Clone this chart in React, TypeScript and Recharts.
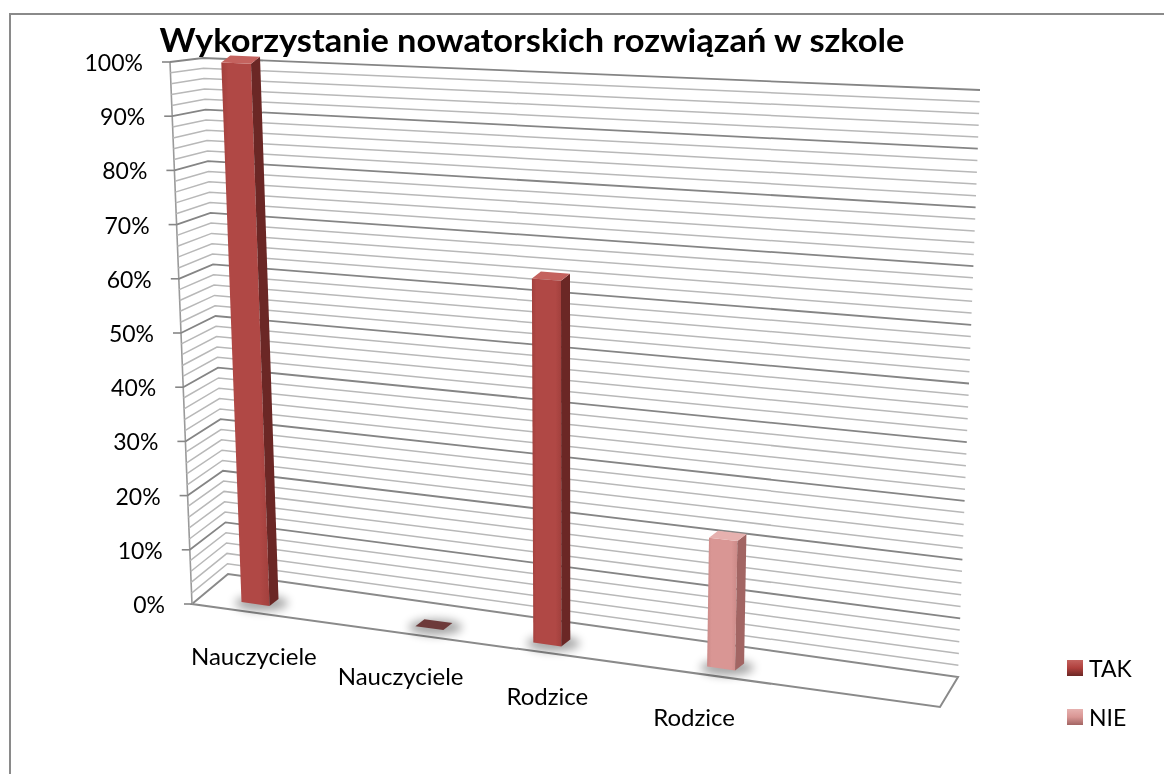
import React from 'react';
import { BarChart, Bar, XAxis, YAxis, CartesianGrid, Legend } from 'recharts';

// ---------- data ----------
const categories = ['Nauczyciele', 'Nauczyciele', 'Rodzice', 'Rodzice'];
const takValues: (number | null)[] = [1.0, null, 0.64, null];
const nieValues: (number | null)[] = [null, 0.0, null, 0.22];
const seriesNames = ['TAK', 'NIE'];
const gridTicks = [
  0, 0.02, 0.04, 0.06, 0.08, 0.1, 0.12, 0.14, 0.16, 0.18, 0.2, 0.22, 0.24, 0.26, 0.28, 0.3,
  0.32, 0.34, 0.36, 0.38, 0.4, 0.42, 0.44, 0.46, 0.48, 0.5, 0.52, 0.54, 0.56, 0.58, 0.6,
  0.62, 0.64, 0.66, 0.68, 0.7, 0.72, 0.74, 0.76, 0.78, 0.8, 0.82, 0.84, 0.86, 0.88, 0.9,
  0.92, 0.94, 0.96, 0.98, 1.0,
];
const majorTickLabels = ['0%', '10%', '20%', '30%', '40%', '50%', '60%', '70%', '80%', '90%', '100%'];
const title = 'Wykorzystanie nowatorskich rozwiązań w szkole';

const data = categories.map((c, i) => ({ name: c, TAK: takValues[i], NIE: nieValues[i] }));

// ---------- styles / geometry of the 3-D frame ----------
const W = 1148;
const H = 758;
const PLOT_TOP = 52;
const PLOT_BOTTOM = 572;
const PLOT_LEFT = 188.5;
const PLOT_RIGHT = 772;
const Y_AXIS_W = 60;
const X_AXIS_H = 30;
const FLAT_LEFT = 193;
const FLAT_W = 743.5;
const FONT = 'Lato, "Noto Sans", sans-serif';

const palette: Record<string, { front: string; frontDark: string; side: string; top: string; zero: string; icon: string }> = {
  TAK: { front: '#b04845', frontDark: '#a2403d', side: '#6b2725', top: '#c4625e', zero: '#6d3a3a', icon: '#b0403d' },
  NIE: { front: '#d99694', frontDark: '#cc8a88', side: '#a26563', top: '#e6b1af', zero: '#6d3a3a', icon: '#d99694' },
};

type Pt = [number, number];
const lerp = (a: number, b: number, t: number) => a + (b - a) * t;
const mix = (p: Pt, q: Pt, t: number): Pt => [lerp(p[0], q[0], t), lerp(p[1], q[1], t)];
const BL = (v: number): Pt => [220 - 25 * v, 566 - 516 * v];
const BR = (v: number): Pt => [950 + 22 * v, 669 - 587 * v];
const FL = (v: number): Pt => [184 - 22 * v, 596 - 542 * v];
const FR = (v: number): Pt => [932 + 24 * v, 699 - 617 * v];
const project = (t: number, v: number, f = 0.75): Pt =>
  mix(mix(BL(v), BR(v), t), mix(FL(v), FR(v), t), f);
const tOf = (x: number) => (x - FLAT_LEFT) / FLAT_W;
const vOf = (y: number) => (PLOT_BOTTOM - y) / (PLOT_BOTTOM - PLOT_TOP);
const pts = (arr: Pt[]) => arr.map((p) => `${p[0].toFixed(1)},${p[1].toFixed(1)}`).join(' ');
const add = (p: Pt, d: Pt): Pt => [p[0] + d[0], p[1] + d[1]];

const renderGridLine = (props: any) => {
  const v = vOf(props.y1);
  const step = Math.round(v * 50);
  const major = step % 5 === 0;
  const a = FL(v);
  const b = BL(v);
  const c = BR(v);
  const isFloor = Math.abs(v) < 0.005;
  return (
    <g key={props.key}>
      {isFloor && (
        <>
          <polygon
            points={pts([FL(0), BL(0), BR(0), FR(0)])}
            fill="#ffffff"
            stroke="#8a8a8a"
            strokeWidth={2}
          />
          <line x1={FL(0)[0]} y1={FL(0)[1]} x2={FL(1)[0]} y2={FL(1)[1]} stroke="#9a9a9a" strokeWidth={1.6} />
        </>
      )}
      {!isFloor && (
        <polyline
          points={pts([a, b, c])}
          fill="none"
          stroke={major ? '#858585' : '#b8b8b8'}
          strokeWidth={major ? 1.8 : 1.5}
        />
      )}
    </g>
  );
};

const YTick = (props: any) => {
  const v = vOf(props.y);
  const step = Math.round(v * 50);
  if (step % 5 !== 0) return <g />;
  const p = FL(v);
  return (
    <g>
      <line x1={p[0] - 8} y1={p[1]} x2={p[0]} y2={p[1]} stroke="#868686" strokeWidth={1.6} />
      <text
        x={p[0] - 27}
        y={p[1]}
        textAnchor="end"
        dominantBaseline="central"
        fontFamily={FONT}
        fontSize={23}
        fill="#000"
      >
        {majorTickLabels[step / 5]}
      </text>
    </g>
  );
};

const XTick = (props: any) => {
  const p = project(tOf(props.x), 0, 1);
  return (
    <text
      x={p[0] - 7}
      y={p[1] + 42}
      textAnchor="middle"
      dominantBaseline="central"
      fontFamily={FONT}
      fontSize={24}
      fill="#000"
    >
      {props.payload.value}
    </text>
  );
};

const makeBarShape = (key: string) => (props: any) => {
  const { x, y, width, height, payload, index } = props;
  if (!payload || payload[key] == null || x == null || isNaN(y)) return <g />;
  const col = palette[key];
  const tL = tOf(x);
  const tR = tOf(x + width);
  const vT = vOf(y);
  const vB = vOf(y + height);
  const fBL = project(tL, vB);
  const fBR = project(tR, vB);
  const fTR = project(tR, vT);
  const fTL = project(tL, vT);
  const D: Pt = [9, -7];
  const fid = `sh-${key}-${index}`;
  const gid = `gr-${key}-${index}`;
  const cx = (fBL[0] + fBR[0]) / 2 + 6;
  const cy = (fBL[1] + fBR[1]) / 2 - 1;
  const zero = Math.abs(height) < 0.5;
  return (
    <g>
      <defs>
        <filter id={fid} x="-50%" y="-200%" width="200%" height="500%">
          <feGaussianBlur stdDeviation={5} />
        </filter>
        <linearGradient id={gid} x1="0" y1="0" x2="1" y2="0">
          <stop offset="0" stopColor={col.frontDark} />
          <stop offset="0.15" stopColor={col.front} />
          <stop offset="0.8" stopColor={col.front} />
          <stop offset="1" stopColor={col.frontDark} />
        </linearGradient>
      </defs>
      <ellipse cx={cx} cy={cy} rx={width * 0.95} ry={8} fill="#000" opacity={0.35} filter={`url(#${fid})`} />
      {zero ? (
        <polygon points={pts([fTL, fTR, add(fTR, D), add(fTL, D)])} fill={col.zero} />
      ) : (
        <>
          <polygon points={pts([fBL, fBR, fTR, fTL])} fill={`url(#${gid})`} />
          <polygon points={pts([fBR, fTR, add(fTR, D), add(fBR, D)])} fill={col.side} />
          <polygon points={pts([fTL, fTR, add(fTR, D), add(fTL, D)])} fill={col.top} />
        </>
      )}
    </g>
  );
};

const renderLegend = (props: any) => {
  const payload = [...(props.payload || [])].sort(
    (a: any, b: any) => seriesNames.indexOf(a.value) - seriesNames.indexOf(b.value)
  );
  return (
    <div style={{ fontFamily: FONT, fontSize: 23, color: '#000' }}>
      {payload.map((e: any, i: number) => {
        const col = palette[e.value] || palette.TAK;
        return (
          <div key={i} style={{ display: 'flex', alignItems: 'center', height: 30, marginBottom: 19 }}>
            <span
              style={{
                display: 'inline-block',
                width: 16,
                height: 16,
                marginRight: 6,
                background: `linear-gradient(180deg, ${col.top} 0%, ${col.icon} 50%, ${col.side} 100%)`,
              }}
            />
            <span>{e.value}</span>
          </div>
        );
      })}
    </div>
  );
};

export default function App() {
  return (
    <div style={{ position: 'relative', width: W, height: H }}>
      <div
        style={{
          position: 'fixed',
          left: 9,
          top: 13,
          width: 1155,
          height: 761,
          borderLeft: '2px solid #8a8a8a',
          borderTop: '2px solid #8a8a8a',
          boxSizing: 'border-box',
          pointerEvents: 'none',
        }}
      />
      <BarChart
        width={W}
        height={H}
        data={data}
        margin={{
          top: PLOT_TOP,
          bottom: H - PLOT_BOTTOM - X_AXIS_H,
          left: PLOT_LEFT - Y_AXIS_W,
          right: W - PLOT_RIGHT,
        }}
        barSize={28}
        barGap={0}
      >
        <CartesianGrid vertical={false} horizontal={renderGridLine} />
        <XAxis dataKey="name" height={X_AXIS_H} axisLine={false} tickLine={false} tick={XTick} interval={0} />
        <YAxis
          width={Y_AXIS_W}
          domain={[0, 1]}
          ticks={gridTicks}
          interval={0}
          axisLine={false}
          tickLine={false}
          tick={YTick}
        />
        <Legend
          layout="vertical"
          align="center"
          verticalAlign="middle"
          wrapperStyle={{ position: 'absolute', left: 1059, top: 645, width: 90 }}
          content={renderLegend}
        />
        <Bar dataKey={seriesNames[0]} name={seriesNames[0]} fill={palette.TAK.front} isAnimationActive={false} shape={makeBarShape('TAK')} />
        <Bar dataKey={seriesNames[1]} name={seriesNames[1]} fill={palette.NIE.front} isAnimationActive={false} shape={makeBarShape('NIE')} />
      </BarChart>
      <svg width={W} height={80} style={{ position: 'absolute', left: 0, top: 0, pointerEvents: 'none' }}>
        <text
          x={524}
          y={44}
          textAnchor="middle"
          fontFamily={FONT}
          fontWeight="bold"
          fontSize={32}
          textLength={745}
          lengthAdjust="spacingAndGlyphs"
          fill="#000"
        >
          {title}
        </text>
      </svg>
    </div>
  );
}
